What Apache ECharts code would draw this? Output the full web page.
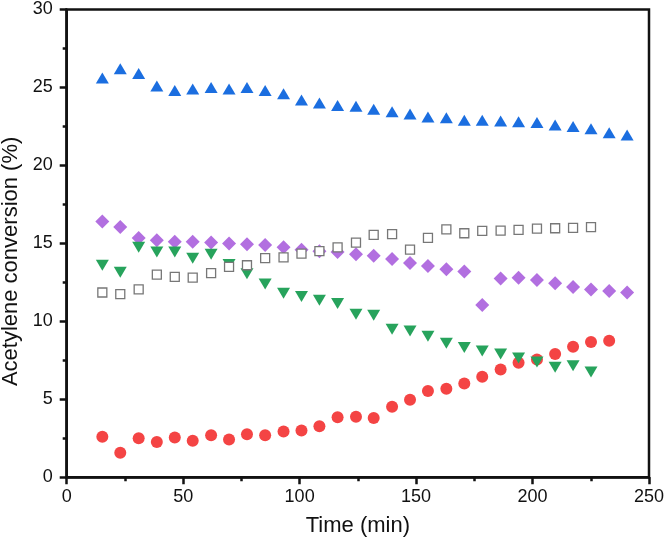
<!DOCTYPE html>
<html>
<head>
<meta charset="utf-8">
<script src="https://cdn.jsdelivr.net/npm/echarts@6/dist/echarts.min.js"></script>
<style>html,body{margin:0;padding:0;background:#fff}#c{width:666px;height:552px}</style>
</head>
<body>
<div id="c"></div>
<script>
var times = [15.3, 23.0, 30.9, 38.7, 46.4, 54.1, 62.0, 69.7, 77.4, 85.2, 93.1, 100.8, 108.5, 116.3, 124.2,
             131.8, 139.7, 147.4, 155.1, 163.0, 170.7, 178.4, 186.3, 194.0, 201.9, 209.7, 217.4, 225.1, 232.9, 240.6];
var blueTri = [25.6, 26.2, 25.9, 25.1, 24.8, 24.9, 25.0, 24.9, 25.0, 24.8, 24.6, 24.2, 24.0, 23.85, 23.8,
               23.6, 23.45, 23.3, 23.1, 23.05, 22.9, 22.9, 22.85, 22.8, 22.75, 22.6, 22.5, 22.35, 22.1, 21.95];
var purpleDia = [16.4, 16.05, 15.35, 15.2, 15.1, 15.1, 15.05, 15.0, 14.95, 14.9, 14.75, 14.6, 14.5, 14.45, 14.3,
                 14.2, 14.0, 13.75, 13.55, 13.35, 13.2, 11.05, 12.75, 12.8, 12.65, 12.45, 12.2, 12.05, 11.95, 11.85];
var graySq = [11.85, 11.75, 12.05, 13.0, 12.85, 12.8, 13.1, 13.5, 13.6, 14.05, 14.1, 14.35, 14.5, 14.75, 15.05,
              15.55, 15.6, 14.6, 15.35, 15.9, 15.65, 15.8, 15.82, 15.87, 15.95, 15.97, 16.0, 16.05];
var greenTri = [13.6, 13.15, 14.75, 14.45, 14.45, 14.05, 14.3, 13.65, 13.05, 12.4, 11.8, 11.6, 11.35, 11.15, 10.45,
                10.4, 9.5, 9.38, 9.05, 8.6, 8.32, 8.1, 7.9, 7.65, 7.4, 7.05, 7.15, 6.75];
var redCirc = [2.6, 1.58, 2.5, 2.27, 2.55, 2.35, 2.7, 2.42, 2.76, 2.7, 2.94, 3.0, 3.27, 3.85, 3.88,
               3.8, 4.53, 4.98, 5.53, 5.68, 6.02, 6.45, 6.92, 7.35, 7.55, 7.9, 8.37, 8.67, 8.76];
var xTicks = [0, 50, 100, 150, 200, 250];
var yTicks = [0, 5, 10, 15, 20, 25, 30];

function pairs(vals) { return vals.map(function (v, i) { return [times[i], v]; }); }

var font = '"Liberation Sans", Arial, sans-serif';
var ink = '#121212';
function ls(w) { return {color: ink, width: w}; }
var chart = echarts.init(document.getElementById('c'));

chart.setOption({
  animation: false,
  backgroundColor: '#fff',
  grid: {left: 66.7, right: 17, top: 9.5, bottom: 74.7, containLabel: false, outerBoundsMode: 'none', show: true, borderColor: ink, borderWidth: 2.5},
  xAxis: {
    type: 'value', min: xTicks[0], max: xTicks[xTicks.length - 1], interval: 50,
    name: 'Time (min)', nameLocation: 'middle', nameGap: 38,
    nameTextStyle: {fontFamily: font, fontSize: 22, color: '#111'},
    axisLine: {show: true, onZero: false, lineStyle: ls(2.5)},
    axisTick: {show: true, inside: false, length: 7, lineStyle: ls(2.5)},
    minorTick: {show: true, splitNumber: 2, length: 4, lineStyle: ls(2.5)},
    axisLabel: {show: true, fontFamily: font, fontSize: 18, color: '#111', margin: 11},
    splitLine: {show: false}
  },
  yAxis: {
    type: 'value', min: yTicks[0], max: yTicks[yTicks.length - 1], interval: 5,
    name: 'Acetylene conversion (%)', nameLocation: 'middle', nameGap: 38, nameRotate: 90,
    nameTextStyle: {fontFamily: font, fontSize: 22, color: '#111', padding: [0, 36, 0, 0]},
    axisLine: {show: true, onZero: false, lineStyle: ls(2.5)},
    axisTick: {show: true, inside: false, length: 7, lineStyle: ls(2.5)},
    minorTick: {show: true, splitNumber: 2, length: 4, lineStyle: ls(2.5)},
    axisLabel: {show: true, fontFamily: font, fontSize: 18, color: '#111', margin: 14},
    splitLine: {show: false}
  },
  series: [
    {type: 'scatter', name: 'purple', data: pairs(purpleDia), symbol: 'diamond', symbolSize: [14, 14],
     itemStyle: {color: '#b26fe0', opacity: 1}},
    {type: 'scatter', name: 'red', data: pairs(redCirc), symbol: 'circle', symbolSize: 12,
     itemStyle: {color: '#f44444', opacity: 1}},
    {type: 'scatter', name: 'green', data: pairs(greenTri), symbol: 'triangle', symbolRotate: 180, symbolSize: [13, 11],
     itemStyle: {color: '#27a35c', opacity: 1}},
    {type: 'scatter', name: 'blue', data: pairs(blueTri), symbol: 'triangle', symbolSize: [13, 11],
     itemStyle: {color: '#1b6ee0', opacity: 1}},
    {type: 'scatter', name: 'gray', data: pairs(graySq), symbol: 'rect', symbolSize: 9,
     itemStyle: {color: '#fff', borderColor: '#777', borderWidth: 1.3, opacity: 1}}
  ]
});
</script>
</body>
</html>
